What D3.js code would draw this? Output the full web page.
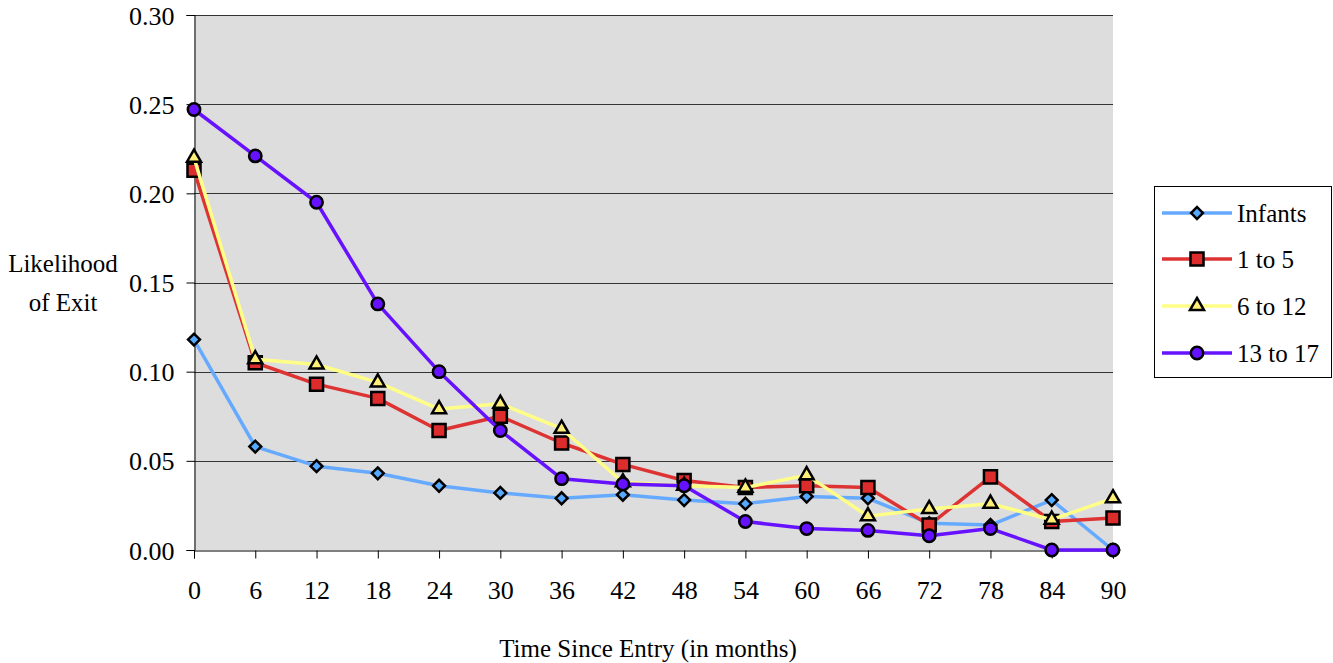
<!DOCTYPE html>
<html lang="en">
<head>
  <meta charset="UTF-8">
  <title>Likelihood of Exit</title>
  <style>
    body { margin: 0; background: #fff; }
    svg text { font-family: "Times New Roman", "Liberation Serif", Tinos, "DejaVu Serif", serif !important; fill: #000; }
  </style>
</head>
<body>
  <svg id="chart" width="1333" height="663"></svg>
  <script src="https://d3js.org/d3.v7.min.js"></script>
  <script>
    // months since entry
    const months = [0, 6, 12, 18, 24, 30, 36, 42, 48, 54, 60, 66, 72, 78, 84, 90];
    const yTicks = [0, 0.05, 0.10, 0.15, 0.20, 0.25, 0.30];

    const infants = [0.118, 0.058, 0.047, 0.043, 0.036, 0.032, 0.029, 0.031, 0.028, 0.026, 0.030, 0.029, 0.015, 0.014, 0.028, 0.000];
    const age1to5 = [0.213, 0.105, 0.093, 0.085, 0.067, 0.075, 0.060, 0.048, 0.039, 0.035, 0.036, 0.035, 0.014, 0.041, 0.016, 0.018];
    const age6to12 = [0.220, 0.107, 0.104, 0.094, 0.079, 0.082, 0.068, 0.038, 0.036, 0.035, 0.042, 0.019, 0.023, 0.026, 0.017, 0.029];
    const age13to17 = [0.247, 0.221, 0.195, 0.138, 0.100, 0.067, 0.040, 0.037, 0.036, 0.016, 0.012, 0.011, 0.008, 0.012, 0.000, 0.000];

    const seriesNames = ['Infants', '1 to 5', '6 to 12', '13 to 17'];
    const series = [infants, age1to5, age6to12, age13to17];
    const lineColors = ['#66aaff', '#dd3333', '#ffff88', '#6611ff'];
    const fillColors = ['#55aaff', '#dd2c2c', '#ffee77', '#6611ff'];
    // diamond = square turned 45 degrees
    const symbols = [d3.symbolSquare, d3.symbolSquare, d3.symbolTriangle, d3.symbolCircle];
    const symSizes = [70, 170, 85, 120];
    const symRotate = [45, 0, 0, 0];

    const svg = d3.select('#chart');
    const plotLeft = 194, plotRight = 1113, plotTop = 15, plotBottom = 550;

    const x = d3.scaleLinear().domain([0, 90]).range([plotLeft, plotRight]);
    const y = d3.scaleLinear().domain([0, 0.30]).range([plotBottom, plotTop]);

    // plot background
    svg.append('rect')
      .attr('x', plotLeft).attr('y', plotTop)
      .attr('width', plotRight - plotLeft).attr('height', plotBottom - plotTop)
      .attr('fill', '#dddddd');

    // gridlines
    svg.append('g')
      .selectAll('line')
      .data(yTicks.slice(1))
      .join('line')
      .attr('x1', plotLeft).attr('x2', plotRight)
      .attr('y1', d => Math.round(y(d)) + 0.5)
      .attr('y2', d => Math.round(y(d)) + 0.5)
      .attr('stroke', '#333')
      .attr('stroke-width', 1);

    // y axis
    const yAxis = svg.append('g')
      .attr('transform', `translate(${plotLeft + 0.5},0)`)
      .attr('font-family', null)
      .call(d3.axisLeft(y).tickValues(yTicks).tickFormat(d3.format('.2f')).tickSize(8).tickPadding(12));
    yAxis.attr('font-family', null).attr('font-size', 26);
    yAxis.select('.domain').attr('stroke', '#000');
    yAxis.selectAll('.tick line').attr('stroke', '#000');
    yAxis.selectAll('text').attr('dy', '0.35em');

    // x axis
    const xAxis = svg.append('g')
      .attr('transform', `translate(0,${plotBottom + 0.5})`)
      .call(d3.axisBottom(x).tickValues(months).tickFormat(d => d).tickSize(8).tickPadding(22));
    xAxis.attr('font-family', null).attr('font-size', 26);
    xAxis.select('.domain').attr('stroke', '#000');
    xAxis.selectAll('.tick line').attr('stroke', '#000');

    // axis titles
    const title = (tx, ty, str) => svg.append('text')
      .attr('x', tx).attr('y', ty)
      .attr('text-anchor', 'middle')
      .attr('font-size', 25)
      .text(str);
    title(63, 272, 'Likelihood');
    title(63, 311, 'of Exit');
    title(648, 657, 'Time Since Entry (in months)');

    const line = d3.line()
      .x((d, i) => x(months[i]))
      .y(d => y(d));

    const marker = (sel, s) => sel
      .attr('d', d3.symbol().type(symbols[s]).size(symSizes[s]))
      .attr('fill', fillColors[s])
      .attr('stroke', '#000')
      .attr('stroke-width', 2.5);

    series.forEach((vals, s) => {
      const g = svg.append('g');
      g.append('path')
        .attr('d', line(vals))
        .attr('fill', 'none')
        .attr('stroke', lineColors[s])
        .attr('stroke-width', 3.5)
        .attr('stroke-linejoin', 'round');
      g.selectAll('path.mark')
        .data(vals)
        .join('path')
        .attr('class', 'mark')
        .attr('transform', (d, i) => `translate(${x(months[i])},${y(d)}) rotate(${symRotate[s]})`)
        .call(marker, s);
    });

    // legend
    const legend = svg.append('g');
    legend.append('rect')
      .attr('x', 1154.5).attr('y', 186.5)
      .attr('width', 177).attr('height', 191)
      .attr('fill', '#fff')
      .attr('stroke', '#000')
      .attr('stroke-width', 1);
    const rowsY = [213, 259, 306, 353];
    seriesNames.forEach((name, s) => {
      const ly = rowsY[s];
      legend.append('line')
        .attr('x1', 1162).attr('x2', 1232)
        .attr('y1', ly).attr('y2', ly)
        .attr('stroke', lineColors[s])
        .attr('stroke-width', 3.5);
      legend.append('path')
        .attr('transform', `translate(1197,${ly}) rotate(${symRotate[s]})`)
        .call(marker, s);
      legend.append('text')
        .attr('x', 1237).attr('y', ly + 9)
        .attr('font-size', 25)
        .text(name);
    });
  </script>
</body>
</html>
